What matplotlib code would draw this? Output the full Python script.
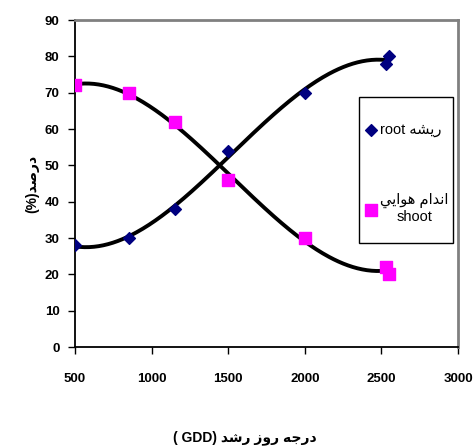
import matplotlib
matplotlib.use("Agg")
import matplotlib.pyplot as plt
from matplotlib.patches import Rectangle
import numpy as np

# data
gdd = [500, 850, 1150, 1500, 2000, 2530, 2550]
root = [28, 30, 38, 54, 70, 78, 80]
shoot = [72, 70, 62, 46, 30, 22, 20]

# Persian text in visual order with presentation forms (matplotlib does no shaping)
root_label = "root \uFEEA\uFEB8\uFEF3\uFEAD"
shoot_label = "\uFEF2\uFEF3\uFE8D\uFEEE\uFEEB \uFEE1\uFE8D\uFEAA\uFEE7\uFE8D\nshoot"
x_title = "( GDD) \uFEAA\uFEB7\uFEAD \uFEAF\uFEED\uFEAD \uFEEA\uFE9F\uFEAD\uFEA9"
y_title = "(%)\uFEAA\uFEBB\uFEAD\uFEA9"

fonts = ["Liberation Sans", "DejaVu Sans"]
plt.rcParams["font.family"] = fonts

fig = plt.figure(figsize=(4.73, 4.48), dpi=100)
ax = fig.add_axes([75 / 473, 1 - 347 / 448, 383 / 473, 327 / 448])

# cubic trend lines over the data range
xs = np.linspace(min(gdd), max(gdd), 200)
for ys in (root, shoot):
    coef = np.polyfit(gdd, ys, 3)
    ax.plot(xs, np.polyval(coef, xs), color="black", lw=2.8, zorder=2)

ax.scatter(gdd, root, marker="D", s=36, color="#000080", zorder=3, label=root_label)
ax.scatter(gdd, shoot, marker="s", s=80, color="#FF00FF", zorder=3, label=shoot_label)

ax.set_xlim(500, 3000)
ax.set_ylim(0, 90)
ax.set_xticks(range(500, 3001, 500))
ax.set_yticks(range(0, 91, 10))
ax.tick_params(direction="out", length=5, width=1, labelsize=9.5, pad=14)
ax.tick_params(axis="y", pad=6)
for lab in ax.get_xticklabels() + ax.get_yticklabels():
    lab.set_fontweight("bold")

for side in ("left", "bottom"):
    ax.spines[side].set_color("black")
    ax.spines[side].set_linewidth(1.3)
for side in ("top", "right"):
    ax.spines[side].set_color("#808080")
    ax.spines[side].set_linewidth(2)

ax.set_ylabel(y_title, fontsize=10, fontweight="bold", labelpad=4)
fig.text(245 / 473, 1 - 438 / 448, x_title, fontsize=10, fontweight="bold",
         ha="center", va="center")

# legend box drawn separately so its size matches the reference
box = Rectangle(((359 - 75) / 383, (347 - 243) / 327), 94 / 383, 146 / 327,
                transform=ax.transAxes, facecolor="white", edgecolor="black",
                lw=1.0, zorder=4)
ax.add_patch(box)
leg = ax.legend(loc="upper left", bbox_to_anchor=((364 - 75) / 383, (347 - 123) / 327),
                frameon=False, fontsize=10.5, handletextpad=0.1, labelspacing=3.8,
                borderpad=0, handlelength=1.0, borderaxespad=0)
leg.set_zorder(5)
for t in leg.get_texts():
    t.set_multialignment("center")

fig.savefig("out.png", dpi=100)
